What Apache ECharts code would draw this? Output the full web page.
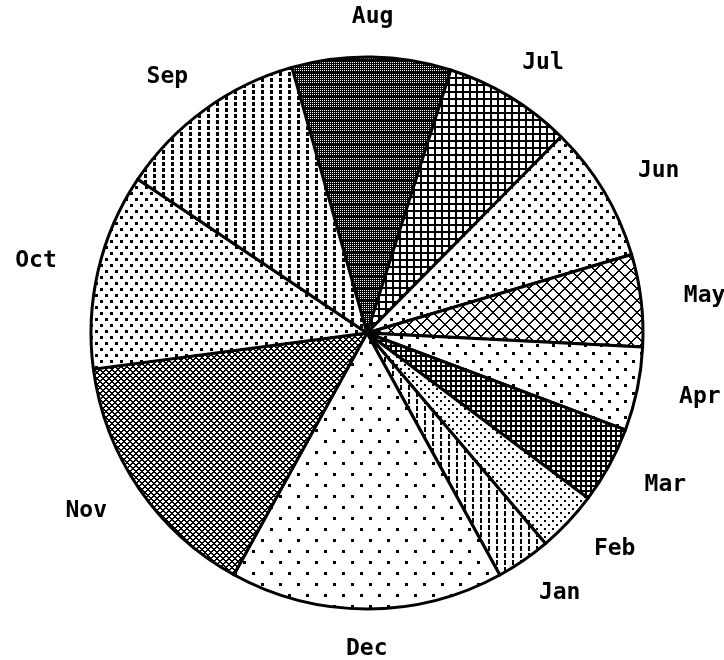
<!DOCTYPE html>
<html><head><meta charset="utf-8">
<script src="https://cdn.jsdelivr.net/npm/echarts@6/dist/echarts.min.js"></script>
<style>html,body{margin:0;padding:0;background:#fff}#c{width:724px;height:660px}</style>
</head><body><div id="c"></div>
<script>
// Data (clockwise from the top)
const months = ['Aug','Jul','Jun','May','Apr','Mar','Feb','Jan','Dec','Nov','Oct','Sep'];
const shares = [9.3, 7.5, 8.0, 5.4, 4.9, 4.5, 3.6, 3.2, 16.0, 14.9, 11.5, 11.2];

// Layout
const CX = 367, CY = 333, R = 276;
const START = 105.8; // echarts startAngle (deg, ccw from 3 o'clock)
const LRX = 340, LRY = 316;

function tile(w, h, fn) {
  const c = document.createElement('canvas');
  c.width = w; c.height = h;
  const g = c.getContext('2d');
  g.fillStyle = '#fff'; g.fillRect(0, 0, w, h);
  g.fillStyle = '#000';
  for (let x = 0; x < w; x++) for (let y = 0; y < h; y++) if (fn(x, y)) g.fillRect(x, y, 1, 1);
  return c;
}
function dots(w, h, s, pts) {
  return tile(w, h, (x, y) => pts.some(p => x >= p[0] && x < p[0] + s && y >= p[1] && y < p[1] + s));
}
const patterns = {
  Aug: tile(4, 12, (x, y) => y < 2 || !(x % 2 === 0 && y % 2 === 0)),
  Jul: tile(7, 7, (x, y) => x < 2 || y < 2),
  Jun: dots(12, 12, 3, [[0,0],[6,6]]),
  May: tile(12, 12, (x, y) => (x + y) % 12 < 2 || ((x - y) % 12 + 12) % 12 < 2),
  Apr: dots(16, 16, 3, [[0,0],[8,8]]),
  Mar: tile(5, 5, (x, y) => x % 5 < 2 || y % 5 < 2),
  Feb: dots(8, 8, 2, [[0,0],[4,4]]),
  Jan: tile(8, 7, (x, y) => x < 2 && y < 5),
  Dec: dots(18, 22, 3, [[0,0],[9,11]]),
  Nov: tile(6, 6, (x, y) => (x + y) % 6 < 2 || ((x - y) % 6 + 6) % 6 < 2),
  Oct: dots(10, 12, 3, [[0,0],[5,6]]),
  Sep: tile(9, 6, (x, y) => x < 3 && y < 4)
};

const total = shares.reduce((a, b) => a + b, 0);
const mids = [];
let cum = 0;
shares.forEach(v => { mids.push((90 - START) + (cum + v / 2) / total * 360); cum += v; });

const data = months.map((m, i) => ({
  name: m, value: shares[i],
  itemStyle: { color: { image: patterns[m], repeat: 'repeat' } }
}));

const chart = echarts.init(document.getElementById('c'), null, { renderer: 'canvas' });
chart.setOption({
  backgroundColor: '#fff',
  animation: false,
  series: [{
    type: 'pie',
    center: [CX, CY],
    radius: R,
    startAngle: START,
    clockwise: true,
    avoidLabelOverlap: false,
    emphasis: { disabled: true },
    itemStyle: { borderColor: '#000', borderWidth: 3 },
    label: {
      show: true, position: 'outside', formatter: '{b}',
      fontFamily: 'DejaVu Sans Mono', fontSize: 23, fontWeight: 'bold', color: '#000'
    },
    labelLine: { show: false },
    labelLayout: function (p) {
      const th = mids[p.dataIndex] * Math.PI / 180;
      return { x: CX + LRX * Math.sin(th), y: CY - LRY * Math.cos(th), align: 'center', verticalAlign: 'middle' };
    },
    data: data
  }]
});
</script></body></html>
